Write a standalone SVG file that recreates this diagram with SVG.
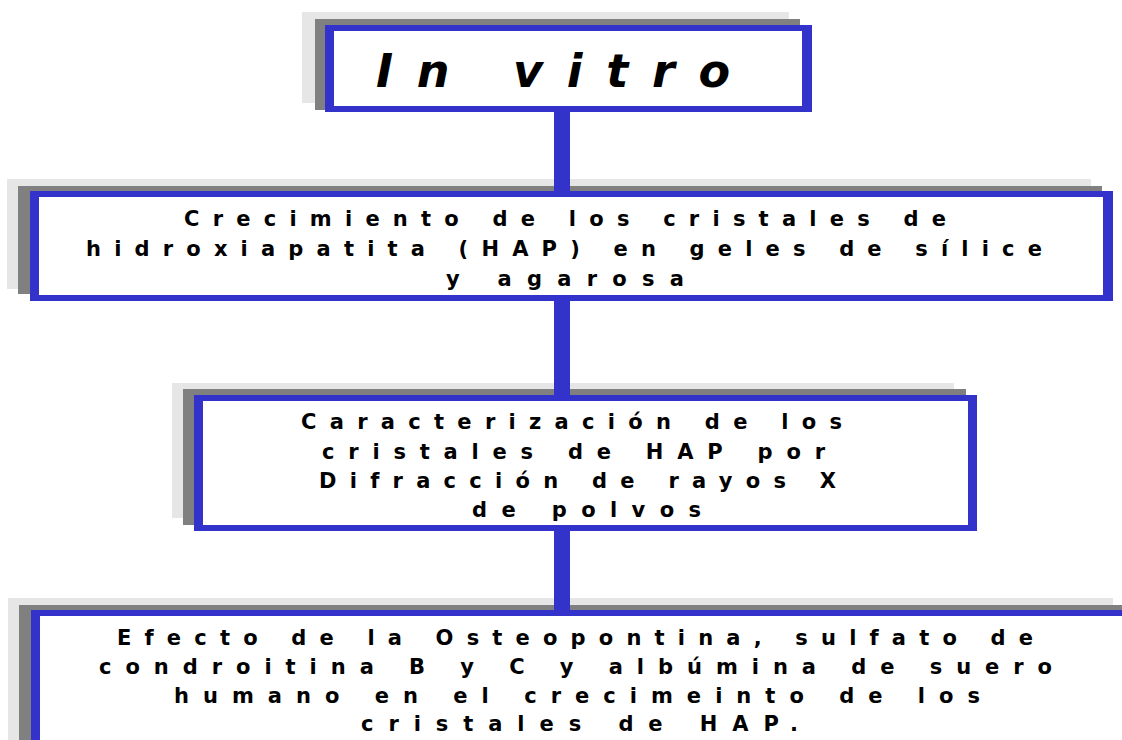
<svg xmlns="http://www.w3.org/2000/svg" width="1122" height="740" viewBox="0 0 1122 740">
<style>
.lg{fill:#e6e6e6}
.dg{fill:#808080}
.bl{fill:#3333cc}
.wh{fill:#ffffff}
.t{font-family:"DejaVu Sans","Verdana",sans-serif;font-weight:bold;font-size:21px;fill:#000}
.title{font-family:"DejaVu Sans","Verdana",sans-serif;font-weight:bold;font-style:italic;font-size:46px;fill:#000}
.conn{stroke:#3333cc;stroke-width:16;fill:none}
</style>
<rect x="0" y="0" width="1122" height="740" fill="#ffffff"/>
<g id="node-invitro">
<rect class="lg" x="302" y="12" width="487" height="91"/>
<rect class="dg" x="315" y="19" width="485" height="91"/>
<rect class="bl" x="325" y="25" width="487" height="87"/>
<rect class="wh" x="334" y="31" width="468" height="75"/>
<text class="title" x="376" y="87" textLength="354" lengthAdjust="spacing">In vitro</text>
</g>
<g id="node-crecimiento">
<rect class="lg" x="7" y="179" width="1084" height="110"/>
<rect class="dg" x="18" y="186" width="1084" height="108"/>
<rect class="bl" x="30" y="191" width="1083" height="110"/>
<rect class="wh" x="39" y="197" width="1064" height="98"/>
<text class="t" x="184" y="226" textLength="762" lengthAdjust="spacing">Crecimiento de los cristales de</text>
<text class="t" x="86" y="256" textLength="956" lengthAdjust="spacing">hidroxiapatita (HAP) en geles de sílice</text>
<text class="t" x="446" y="286" textLength="238" lengthAdjust="spacing">y agarosa</text>
</g>
<g id="node-caracterizacion">
<rect class="lg" x="172" y="383" width="782" height="135"/>
<rect class="dg" x="183" y="389" width="783" height="136"/>
<rect class="bl" x="194" y="395" width="783" height="136"/>
<rect class="wh" x="203" y="401" width="765" height="124"/>
<text class="t" x="301" y="429" textLength="541" lengthAdjust="spacing">Caracterización de los</text>
<text class="t" x="322" y="459" textLength="503" lengthAdjust="spacing">cristales de HAP por</text>
<text class="t" x="319" y="488" textLength="517" lengthAdjust="spacing">Difracción de rayos X</text>
<text class="t" x="472" y="517" textLength="229" lengthAdjust="spacing">de polvos</text>
</g>
<g id="node-efecto">
<rect class="lg" x="8" y="598" width="1105" height="150"/>
<rect class="dg" x="19" y="605" width="1110" height="150"/>
<rect class="bl" x="31" y="610" width="1100" height="140"/>
<rect class="wh" x="40" y="616" width="1090" height="130"/>
<text class="t" x="117" y="645" textLength="916" lengthAdjust="spacing">Efecto de la Osteopontina, sulfato de</text>
<text class="t" x="99" y="674" textLength="953" lengthAdjust="spacing">condroitina B y C y albúmina de suero</text>
<text class="t" x="174" y="703" textLength="806" lengthAdjust="spacing">humano en el crecimeinto de los</text>
<text class="t" x="361" y="731" textLength="437" lengthAdjust="spacing">cristales de HAP.</text>
</g>
<g id="connectors">
<line class="conn" x1="562" y1="112" x2="562" y2="191"/>
<line class="conn" x1="562" y1="301" x2="562" y2="395"/>
<line class="conn" x1="562" y1="531" x2="562" y2="610"/>
</g>
</svg>
